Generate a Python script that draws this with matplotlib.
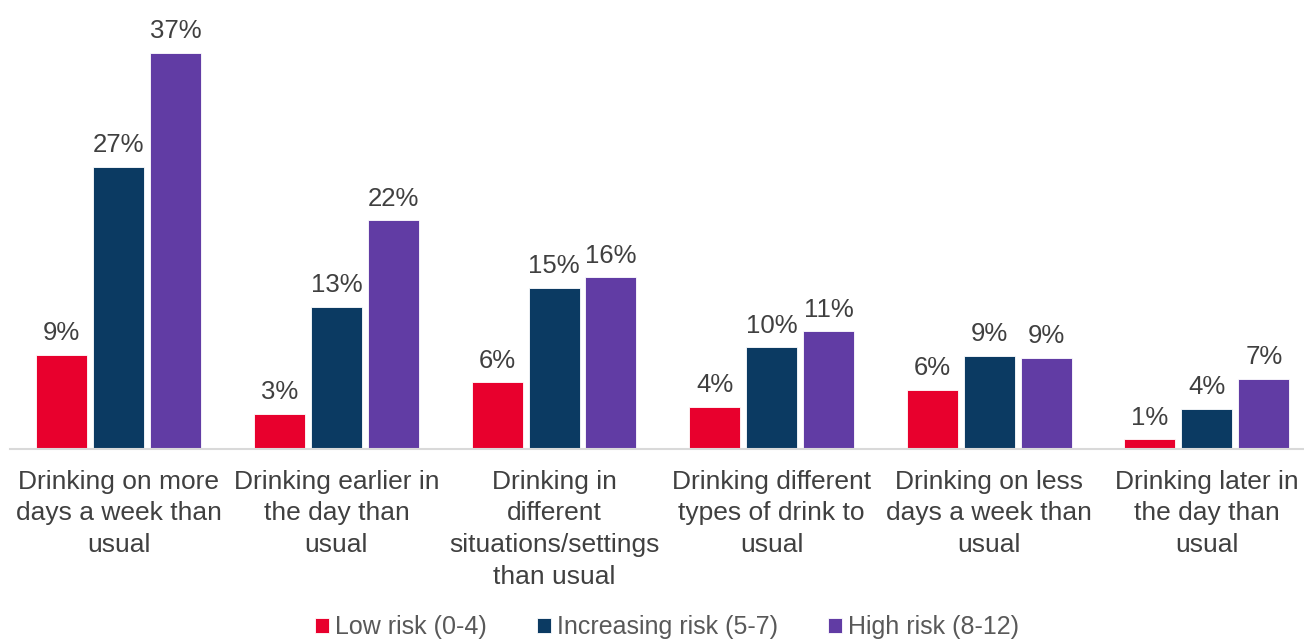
import matplotlib.pyplot as plt
import numpy as np

plt.rcParams['font.family'] = ['Liberation Sans', 'DejaVu Sans']

categories = [
    'Drinking on more\ndays a week than\nusual',
    'Drinking earlier in\nthe day than\nusual',
    'Drinking in\ndifferent\nsituations/settings\nthan usual',
    'Drinking different\ntypes of drink to\nusual',
    'Drinking on less\ndays a week than\nusual',
    'Drinking later in\nthe day than\nusual',
]
series_names = ['Low risk (0-4)', 'Increasing risk (5-7)', 'High risk (8-12)']
low_risk = [8.9, 3.3, 6.3, 4.0, 5.6, 0.9]
increasing_risk = [26.6, 13.4, 15.2, 9.6, 8.8, 3.8]
high_risk = [37.4, 21.6, 16.2, 11.1, 8.6, 6.6]
colors = ['#e8002d', '#0b3a62', '#613ca4']

fig = plt.figure(figsize=(13.04, 6.4), dpi=100)
# axes from x=10px to right edge, y from 25px to 449px (from top)
ax = fig.add_axes([10 / 1304, 191 / 640, 1294 / 1304, 424 / 640])

x = np.arange(len(categories))
pitch = 217.6
bar_w = 51 / pitch
step = 57 / pitch

for i, (vals, name, c) in enumerate(zip([low_risk, increasing_risk, high_risk], series_names, colors)):
    pos = x + (i - 1) * step
    bars = ax.bar(pos, vals, width=bar_w, color=c, label=name, edgecolor='white', linewidth=0.6)
    for b, v in zip(bars, vals):
        ax.text(b.get_x() + b.get_width() / 2, v + 0.9, f'{round(v)}%',
                ha='center', va='bottom', fontsize=18.5, color='#404040')

ax.set_xlim(-0.5, -0.5 + 1294 / pitch)
ax.set_ylim(0, 40)
ax.set_xticks(x)
ax.set_xticklabels(categories, fontsize=19, color='#404040', linespacing=1.4)
ax.tick_params(axis='x', length=0, pad=15)
ax.set_yticks([])
for s in ['top', 'right', 'left']:
    ax.spines[s].set_visible(False)
ax.spines['bottom'].set_color('#d9d9d9')
ax.spines['bottom'].set_linewidth(1.5)

fig.legend(loc='center', bbox_to_anchor=(667 / 1304, 1 - 627 / 640), ncol=3, frameon=False,
           fontsize=18, handlelength=0.55, handleheight=0.55, handletextpad=0.25,
           columnspacing=2.0, labelcolor='#595959')

fig.savefig('out.png', dpi=100)
